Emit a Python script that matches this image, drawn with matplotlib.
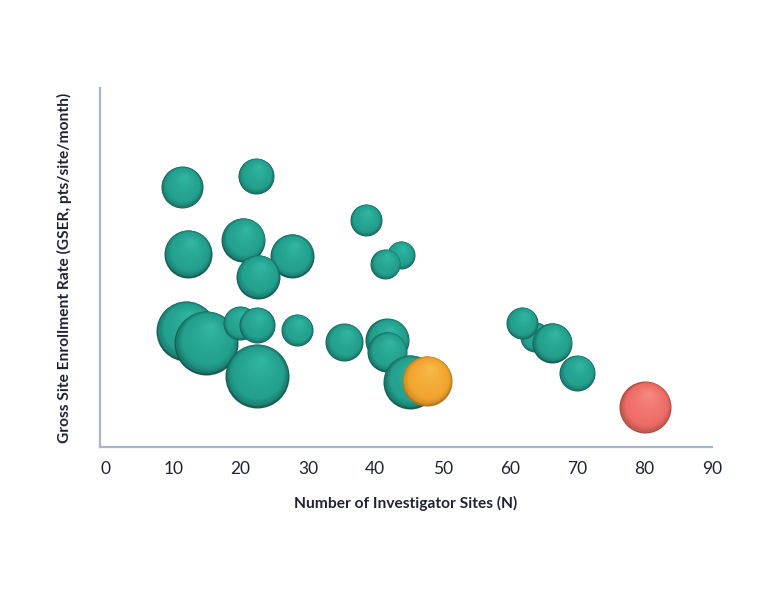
#!/usr/bin/env python3
import numpy as np
import matplotlib
matplotlib.use('Agg')
import matplotlib.pyplot as plt
import matplotlib.transforms as mtrans
from matplotlib.colors import to_rgb

# data (x = sites, y = GSER, size ~ enrolled patients)
sites = [11.3, 22.3, 38.6, 12.2, 20.4, 27.6, 22.6, 43.8, 41.5,
         11.9, 14.9, 19.9, 22.4, 28.4, 22.4, 35.4, 41.8, 41.8,
         45.2, 63.7, 61.8, 66.3, 70.0, 47.7, 80.1]
gser = [0.724, 0.755, 0.632, 0.538, 0.577, 0.532, 0.474, 0.535, 0.510,
        0.323, 0.290, 0.345, 0.340, 0.326, 0.198, 0.292, 0.298, 0.265,
        0.181, 0.306, 0.345, 0.290, 0.206, 0.184, 0.111]
enrolled = [441, 324, 256, 576, 484, 484, 484, 196, 225,
            900, 1024, 289, 324, 256, 1024, 361, 484, 400,
            729, 225, 256, 400, 324, 625, 676]
group = ['other'] * 23 + ['highlight', 'outlier']

xticks = [0, 10, 20, 30, 40, 50, 60, 70, 80, 90]

palette = {
    'other':     ('#145e55', '#23a08e', '#33b9a6'),
    'highlight': ('#b5761a', '#f2a530', '#f9bd4c'),
    'outlier':   ('#a54741', '#ee6d66', '#f78d85'),
}

fig = plt.figure(figsize=(7.68, 5.94), dpi=100)
ax = fig.add_axes([0.130, 0.2475, 0.797, 0.6045])


def shade(dark, base, light, f):
    dark, base, light = map(np.array, (to_rgb(dark), to_rgb(base), to_rgb(light)))
    if f > 0.8:
        t = (1 - f) / 0.2
        return dark + (base - dark) * t ** 0.5
    t = (0.8 - f) / 0.8
    return base + (light - base) * t ** 1.3


n_layers = 26
for i, (x, y, e, g) in enumerate(zip(sites, gser, enrolled, group)):
    s = e * 2.0736
    r_pt = np.sqrt(s) / 2
    dark, base, light = palette[g]
    for k in range(n_layers):
        f = 1 - k / n_layers
        dx = 0.15 * r_pt * (1 - f)
        dy = 0.55 * r_pt * (1 - f)
        tr = ax.transData + mtrans.ScaledTranslation(dx / 72, dy / 72, fig.dpi_scale_trans)
        ax.scatter([x], [y], s=s * f * f, color=shade(dark, base, light, f),
                   linewidths=0, transform=tr, zorder=3 + i + k / 100)

ax.set_xlim(-0.9, 90)
ax.set_ylim(0, 1.0)
ax.set_xticks(xticks)
ax.set_xticklabels([str(t) for t in xticks])
ax.set_yticks([])
ax.tick_params(axis='x', length=0, pad=10, labelsize=12.5, labelcolor='#1e2433')
for lab in ax.get_xticklabels():
    lab.set_family(['Lato', 'DejaVu Sans'])

for side in ['top', 'right']:
    ax.spines[side].set_visible(False)
for side in ['left', 'bottom']:
    ax.spines[side].set_color('#a7b4d2')
    ax.spines[side].set_linewidth(1.6)

ax.set_xlabel('Number of Investigator Sites (N)', fontsize=11.2, fontweight='bold',
              family=['Lato', 'DejaVu Sans'], color='#1e2433', labelpad=14)
ax.set_ylabel('Gross Site Enrollment Rate (GSER, pts/site/month)', fontsize=11.2,
              fontweight='bold', family=['Lato', 'DejaVu Sans'], color='#1e2433',
              labelpad=20)

plt.savefig('out.png', dpi=100)
